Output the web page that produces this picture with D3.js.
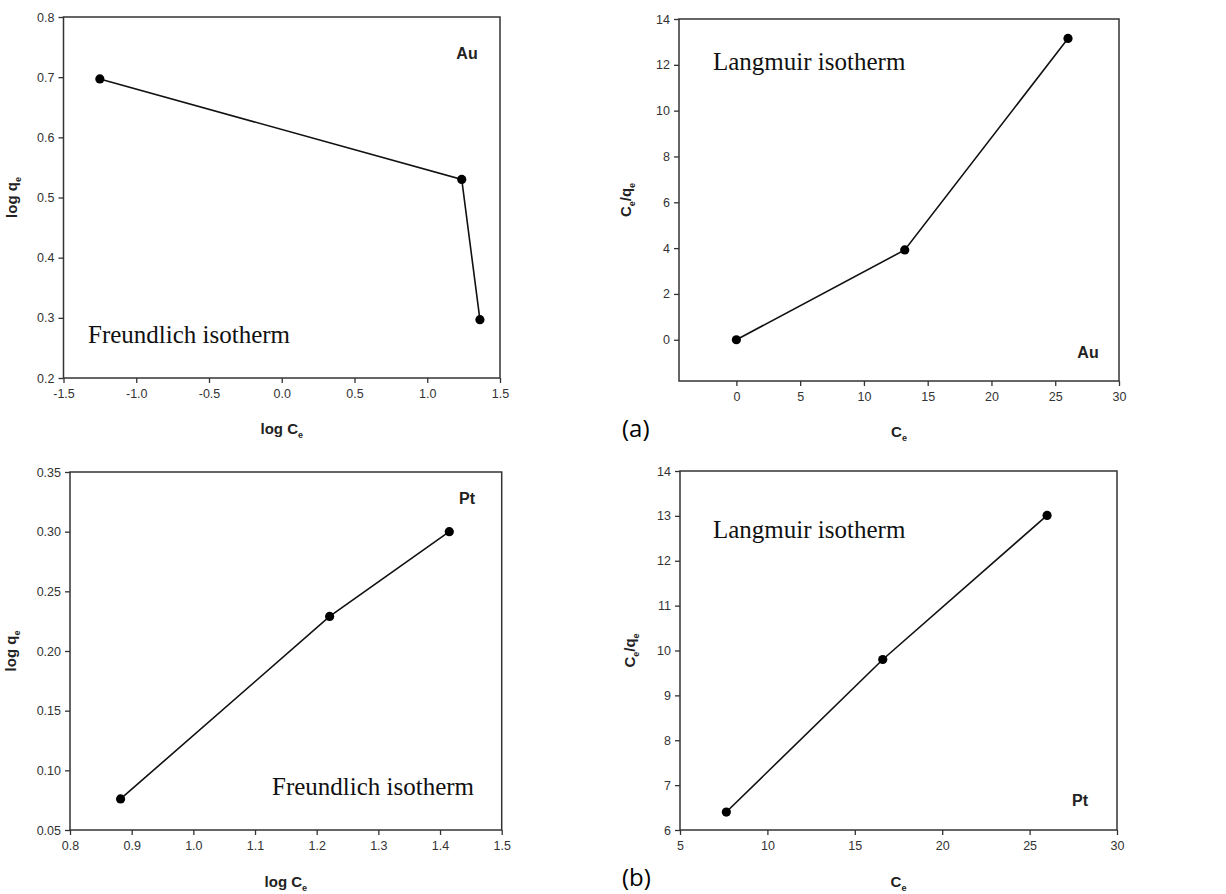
<!DOCTYPE html>
<html><head><meta charset="utf-8">
<script src="https://cdn.jsdelivr.net/npm/d3@7"></script>
<style>
body{margin:0;background:#fff;}
svg{display:block;}
</style></head>
<body>
<svg id="chart" width="1226" height="894"></svg>
<script>
// ---- Data ----
const auFreundlichLogCe = [-1.25, 1.237, 1.362];
const auFreundlichLogQe = [0.697, 0.530, 0.297];
const auLangmuirCe = [0.0, 13.2, 26.0];
const auLangmuirCeQe = [0.0, 3.92, 13.15];
const ptFreundlichLogCe = [0.882, 1.221, 1.415];
const ptFreundlichLogQe = [0.076, 0.229, 0.300];
const ptLangmuirCe = [7.65, 16.6, 26.0];
const ptLangmuirCeQe = [6.4, 9.8, 13.01];

// ---- Tick labels ----
const p1XTicks = [-1.5, -1.0, -0.5, 0.0, 0.5, 1.0, 1.5];
const p1YTicks = [0.2, 0.3, 0.4, 0.5, 0.6, 0.7, 0.8];
const p2XTicks = [0, 5, 10, 15, 20, 25, 30];
const p2YTicks = [0, 2, 4, 6, 8, 10, 12, 14];
const p3XTicks = [0.8, 0.9, 1.0, 1.1, 1.2, 1.3, 1.4, 1.5];
const p3YTicks = [0.05, 0.10, 0.15, 0.20, 0.25, 0.30, 0.35];
const p4XTicks = [5, 10, 15, 20, 25, 30];
const p4YTicks = [6, 7, 8, 9, 10, 11, 12, 13, 14];

const svg = d3.select("#chart");
const loc = d3.formatLocale({decimal: ".", thousands: ",", grouping: [3], currency: ["", ""], minus: "-"});

const panels = [
  {x: auFreundlichLogCe, y: auFreundlichLogQe, left: 63.5, right: 500, top: 17, bottom: 378,
   xd: [-1.5, 1.5], yd: [0.2, 0.8], xt: p1XTicks, yt: p1YTicks, xf: ".1f", yf: ".1f",
   xlab: ["log C", "e"], ylab: ["log q", "e"], xlabOff: 56, ylabOff: 47,
   iso: "Freundlich isotherm", isoX: 88, isoY: 343, metal: "Au", metX: 467, metY: 59},
  {x: auLangmuirCe, y: auLangmuirCeQe, left: 679, right: 1119, top: 19, bottom: 381,
   xd: [-4.5, 30], yd: [-1.8, 14], xt: p2XTicks, yt: p2YTicks, xf: "d", yf: "d",
   xlab: ["C", "e"], ylab: ["C", "e", "/q", "e"], xlabOff: 56, ylabOff: 48,
   iso: "Langmuir isotherm", isoX: 713, isoY: 70, metal: "Au", metX: 1088, metY: 358},
  {x: ptFreundlichLogCe, y: ptFreundlichLogQe, left: 70, right: 501.7, top: 472, bottom: 830,
   xd: [0.8, 1.5], yd: [0.05, 0.35], xt: p3XTicks, yt: p3YTicks, xf: ".1f", yf: ".2f",
   xlab: ["log C", "e"], ylab: ["log q", "e"], xlabOff: 57, ylabOff: 54,
   iso: "Freundlich isotherm", isoX: 272, isoY: 795, metal: "Pt", metX: 467, metY: 504},
  {x: ptLangmuirCe, y: ptLangmuirCeQe, left: 680, right: 1117, top: 471, bottom: 830,
   xd: [5, 30], yd: [6, 14], xt: p4XTicks, yt: p4YTicks, xf: "d", yf: "d",
   xlab: ["C", "e"], ylab: ["C", "e", "/q", "e"], xlabOff: 57, ylabOff: 45,
   iso: "Langmuir isotherm", isoX: 713, isoY: 538, metal: "Pt", metX: 1080, metY: 806}
];

function addLabel(sel, parts) {
  parts.forEach((p, i) => {
    const t = sel.append("tspan").text(p);
    if (i % 2 === 1) t.attr("font-size", 9).attr("dy", 4);
    else if (i > 0) t.attr("dy", -4);
  });
}

panels.forEach(p => {
  const xs = d3.scaleLinear().domain(p.xd).range([p.left, p.right]);
  const ys = d3.scaleLinear().domain(p.yd).range([p.bottom, p.top]);
  const g = svg.append("g");

  g.append("rect").attr("x", p.left).attr("y", p.top)
    .attr("width", p.right - p.left).attr("height", p.bottom - p.top)
    .attr("fill", "none").attr("stroke", "#333").attr("stroke-width", 1.5);

  const xAxis = d3.axisBottom(xs).tickValues(p.xt).tickFormat(loc.format(p.xf))
    .tickSize(5).tickPadding(6);
  const yAxis = d3.axisLeft(ys).tickValues(p.yt).tickFormat(loc.format(p.yf))
    .tickSize(5).tickPadding(4);
  const gx = g.append("g").attr("transform", `translate(0,${p.bottom})`).call(xAxis);
  const gy = g.append("g").attr("transform", `translate(${p.left},0)`).call(yAxis);
  [gx, gy].forEach(a => {
    a.select(".domain").remove();
    a.selectAll(".tick line").attr("stroke", "#333").attr("stroke-width", 1.3);
    a.selectAll(".tick text").attr("fill", "#333").attr("font-size", 12.5)
      .attr("font-family", "Liberation Sans, Arial, sans-serif");
  });

  const pts = p.x.map((v, i) => [v, p.y[i]]);
  g.append("path").datum(pts)
    .attr("d", d3.line().x(d => xs(d[0])).y(d => ys(d[1])))
    .attr("fill", "none").attr("stroke", "#111").attr("stroke-width", 1.6);
  g.selectAll("circle").data(pts).join("circle")
    .attr("cx", d => xs(d[0])).attr("cy", d => ys(d[1])).attr("r", 4.6)
    .attr("fill", "#000");

  const xl = g.append("text").attr("x", (p.left + p.right) / 2).attr("y", p.bottom + p.xlabOff)
    .attr("text-anchor", "middle").attr("font-weight", "bold").attr("font-size", 15)
    .attr("font-family", "Liberation Sans, Arial, sans-serif").attr("fill", "#222");
  addLabel(xl, p.xlab);
  const cy = (p.top + p.bottom) / 2;
  const yl = g.append("text")
    .attr("transform", `translate(${p.left - p.ylabOff},${cy}) rotate(-90)`)
    .attr("text-anchor", "middle").attr("font-weight", "bold").attr("font-size", 15)
    .attr("font-family", "Liberation Sans, Arial, sans-serif").attr("fill", "#222");
  addLabel(yl, p.ylab);

  g.append("text").attr("x", p.isoX).attr("y", p.isoY).text(p.iso)
    .attr("font-family", "Liberation Serif, Times New Roman, serif").attr("font-size", 25)
    .attr("fill", "#111");
  g.append("text").attr("x", p.metX).attr("y", p.metY).text(p.metal)
    .attr("text-anchor", "middle").attr("font-weight", "bold").attr("font-size", 16)
    .attr("font-family", "Liberation Sans, Arial, sans-serif").attr("fill", "#222");
});

svg.append("text").attr("x", 622).attr("y", 437).text("(a)")
  .attr("font-family", "Open Sans, Noto Sans, sans-serif").attr("font-size", 24).attr("fill", "#000");
svg.append("text").attr("x", 622).attr("y", 886).text("(b)")
  .attr("font-family", "Open Sans, Noto Sans, sans-serif").attr("font-size", 24).attr("fill", "#000");
</script>
</body></html>
